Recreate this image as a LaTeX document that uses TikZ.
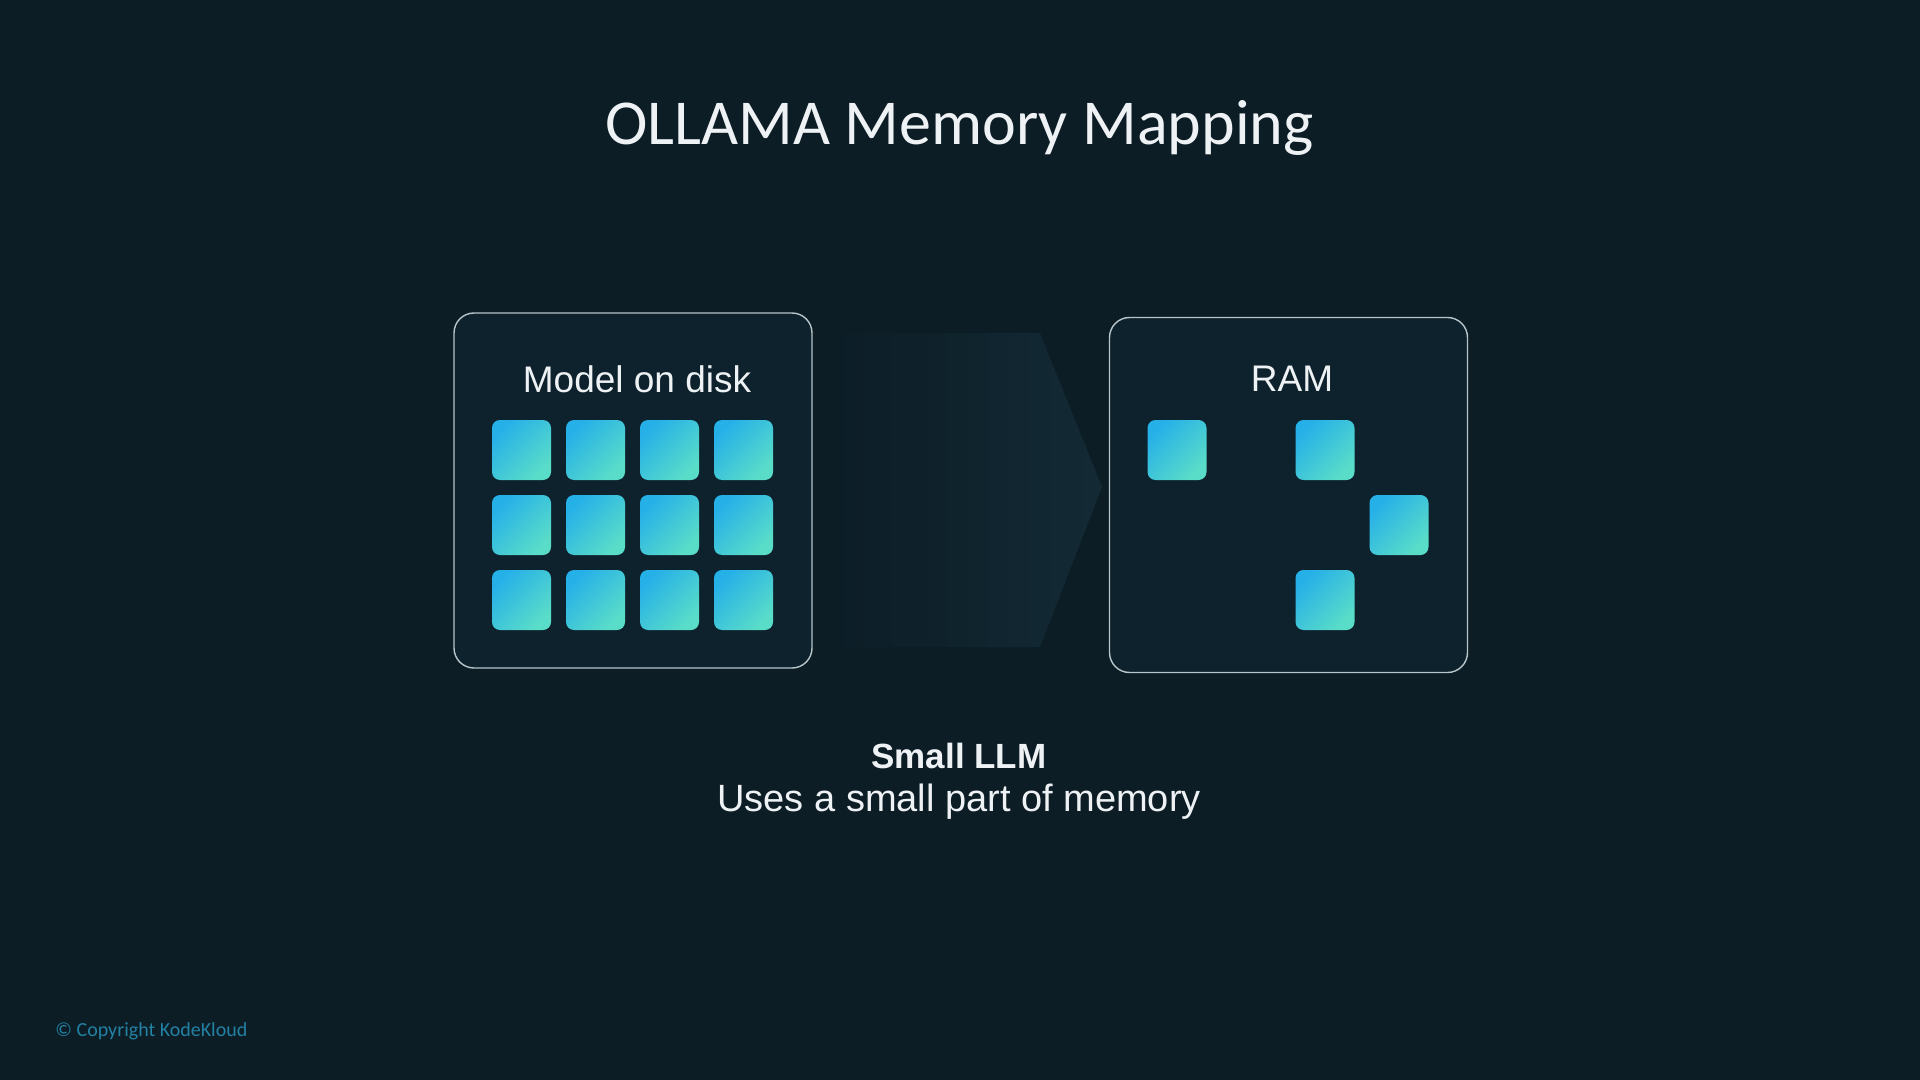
\documentclass[tikz,border=0pt]{standalone}
\usepackage{fontspec}
\setmainfont{Liberation Sans}
\newfontfamily\titlefont{Carlito}
\definecolor{bgnavy}{HTML}{0C1D26}
\definecolor{panelnavy}{HTML}{0E222D}
\definecolor{edgegray}{HTML}{B8C5CA}
\definecolor{arrowshade}{HTML}{132A35}
\definecolor{blockblue}{HTML}{26B0E8}
\definecolor{blockgreen}{HTML}{5ADDC8}
\definecolor{textwhite}{HTML}{EEF2F4}
\definecolor{copyteal}{HTML}{2381A3}
\begin{document}
\begin{tikzpicture}[x=0.5pt, y=-0.5pt,
    panel/.style={draw=edgegray, line width=0.7pt, fill=panelnavy, rounded corners=10pt,
        minimum width=179pt, minimum height=177.5pt, inner sep=0pt},
    blk/.style={rounded corners=4pt, top color=blockblue, bottom color=blockgreen, shading angle=45,
        minimum width=29.5pt, minimum height=30pt, inner sep=0pt},
    caption/.style={text=textwhite, anchor=base, inner sep=0pt}]
    % Background, 1920x1080 px
    \fill[bgnavy] (0,0) rectangle (1920,1080);

    % Title
    \node[caption, font=\titlefont\fontsize{32}{38}\selectfont] (title) at (959.5,145) {OLLAMA Memory Mapping};

    % Faded arrow between the two panels
    \shade[left color=bgnavy, right color=arrowshade]
        (833,333) -- (1040,333) -- (1102,487) -- (1040,647) -- (833,647) -- cycle;

    % Panels
    \node[panel] (disk) at (633,490.5) {};
    \node[panel] (ram) at (1288.5,495) {};
    \node[caption, font=\fontsize{18.5}{22}\selectfont] (disklbl) at (637,393) {Model on disk};
    \node[caption, font=\fontsize{18.5}{22}\selectfont] (ramlbl) at (1292,392) {RAM};

    % Model on disk: full 4x3 grid of blocks
    \foreach \c in {0,...,3}
        \foreach \r in {0,1,2}
            \node[blk] (d\c\r) at ({521.5+74*\c},{450+75*\r}) {};

    % RAM: only a few blocks loaded
    \foreach \c/\r [count=\i] in {0/0,2/0,3/1,2/2}
        \node[blk] (r\i) at ({1177+74*\c},{450+75*\r}) {};

    % Caption below
    \node[caption, font=\bfseries\fontsize{17.5}{21}\selectfont] (sizelbl) at (959,768) {Small LLM};
    \node[caption, font=\fontsize{19}{23}\selectfont] (uselbl) at (959,811) {Uses a small part of memory};

    % Footer
    \node[anchor=base west, inner sep=0pt, text=copyteal, font=\titlefont\fontsize{10}{12}\selectfont] (copy) at (55,1036) {© Copyright KodeKloud};
\end{tikzpicture}
\end{document}
